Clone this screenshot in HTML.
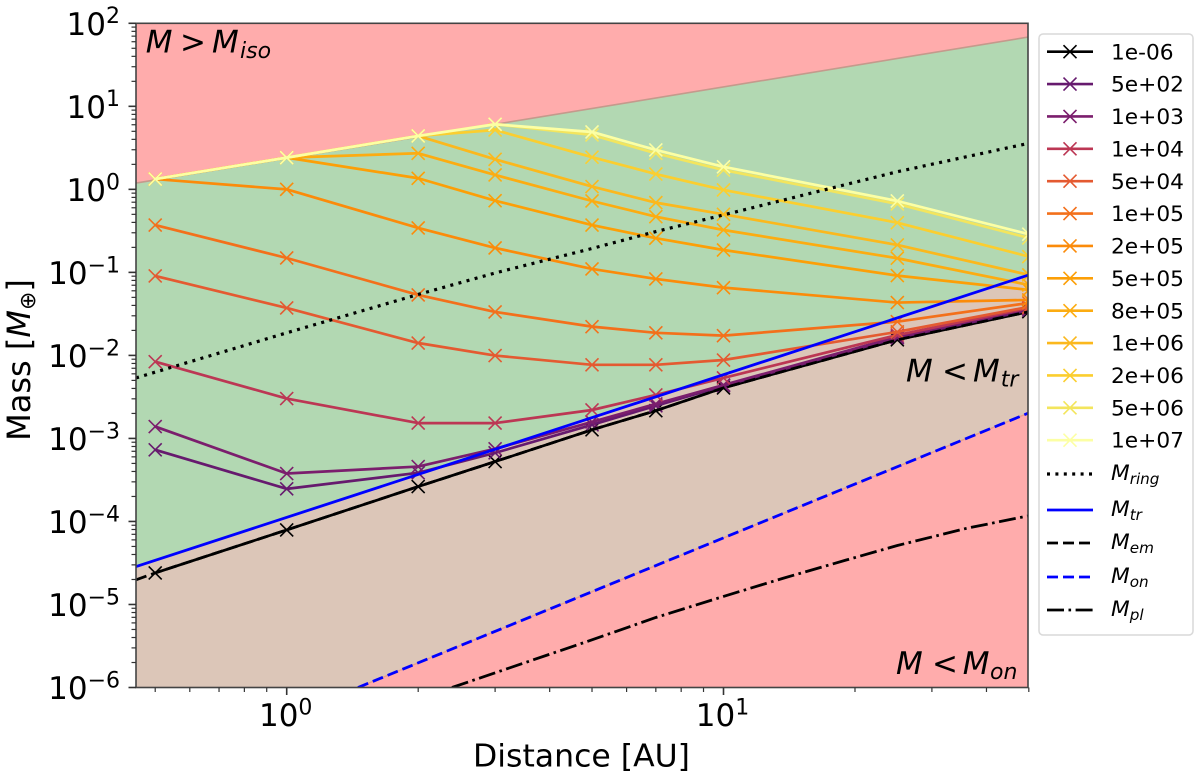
<!DOCTYPE html>
<html lang="en">
<head>
<meta charset="utf-8">
<title>Mass vs Distance</title>
<style>
html,body{margin:0;padding:0;background:#fff;width:1200px;height:776px;overflow:hidden}
svg{display:block}
text{font-family:"DejaVu Sans","Liberation Sans",sans-serif;fill:#000}
</style>
</head>
<body>
<svg id="chart" xmlns="http://www.w3.org/2000/svg" width="1200" height="776" viewBox="0 0 1200 776">
  <defs>
    <clipPath id="axes-clip"><rect x="136" y="23.3" width="892" height="664.2"></rect></clipPath>
  </defs>
  <g id="plot" clip-path="url(#axes-clip)"></g>
  <rect x="136" y="23.3" width="892" height="664.2" fill="none" stroke="#444" stroke-width="1.6"></rect>
  <g id="ticks"></g>

  <g font-size="31">
    <text y="52.7"><tspan x="145.7" font-style="italic">M</tspan><tspan x="180">&gt;</tspan><tspan x="212" font-style="italic">M</tspan><tspan x="240" y="58" font-size="22" font-style="italic">iso</tspan></text>
  </g>
  <g font-size="31">
    <text y="381.7"><tspan x="906" font-style="italic">M</tspan><tspan x="942">&lt;</tspan><tspan x="973" font-style="italic">M</tspan><tspan x="1000.7" y="386.7" font-size="22" font-style="italic">tr</tspan></text>
  </g>
  <g font-size="31">
    <text y="674"><tspan x="896" font-style="italic">M</tspan><tspan x="932">&lt;</tspan><tspan x="962.7" font-style="italic">M</tspan><tspan x="990" y="679" font-size="22" font-style="italic">on</tspan></text>
  </g>

  <text x="581.5" y="766.7" font-size="31.5" text-anchor="middle">Distance [AU]</text>
  <text transform="translate(30,360) rotate(-90)" font-size="32" text-anchor="middle">Mass [<tspan font-style="italic">M</tspan><tspan font-size="22" dy="5">⊕</tspan><tspan dy="-5">]</tspan></text>

  <g id="legend">
    <rect x="1039" y="34" width="154" height="601" rx="4" fill="#fff" stroke="#d9d9d9" stroke-width="1.5"></rect>
  </g>
</svg>

<script>
// ---- Data ----
const distances = [0.5, 1, 2, 3, 5, 7, 10, 25, 50];
const seriesLabels = ['1e-06','5e+02','1e+03','1e+04','5e+04','1e+05','2e+05','5e+05','8e+05','1e+06','2e+06','5e+06','1e+07'];
const mass_1em06 = [2.4e-5, 7.9e-5, 2.63e-4, 5.26e-4, 1.27e-3, 2.16e-3, 4.06e-3, 1.54e-2, 3.36e-2];
const mass_5e02 = [7.3e-4, 2.47e-4, 3.85e-4, 6.7e-4, 1.46e-3, 2.47e-3, 4.3e-3, 1.63e-2, 3.5e-2];
const mass_1e03 = [1.39e-3, 3.78e-4, 4.58e-4, 7.5e-4, 1.58e-3, 2.6e-3, 4.4e-3, 1.67e-2, 3.63e-2];
const mass_1e04 = [8.4e-3, 3.02e-3, 1.53e-3, 1.53e-3, 2.2e-3, 3.34e-3, 5.36e-3, 1.76e-2, 3.73e-2];
const mass_5e04 = [0.0906, 0.0373, 0.0141, 0.00995, 0.0077, 0.0077, 0.0088, 0.0192, 0.0384];
const mass_1e05 = [0.372, 0.149, 0.0535, 0.0334, 0.0222, 0.0187, 0.0173, 0.0255, 0.0428];
const mass_2e05 = [1.33, 1.0, 0.343, 0.197, 0.110, 0.0834, 0.0655, 0.0433, 0.0466];
const mass_5e05 = [1.33, 2.41, 1.36, 0.731, 0.372, 0.258, 0.186, 0.0914, 0.0615];
const mass_8e05 = [1.33, 2.41, 2.72, 1.49, 0.724, 0.469, 0.324, 0.148, 0.0706];
const mass_1e06 = [1.33, 2.41, 4.4, 2.30, 1.08, 0.692, 0.501, 0.214, 0.0933];
const mass_2e06 = [1.33, 2.41, 4.4, 5.19, 2.44, 1.53, 0.984, 0.397, 0.155];
const mass_5e06 = [1.33, 2.41, 4.4, 6.08, 4.52, 2.72, 1.71, 0.667, 0.26];
const mass_1e07 = [1.33, 2.41, 4.4, 6.08, 4.91, 2.98, 1.87, 0.724, 0.288];
const seriesValues = [mass_1em06, mass_5e02, mass_1e03, mass_1e04, mass_5e04, mass_1e05, mass_2e05, mass_5e05, mass_8e05, mass_1e06, mass_2e06, mass_5e06, mass_1e07];
const seriesColors = ['#000000','#661a6e','#7b1e6d','#bc3754','#e45a31','#f3701b','#fb8b0a','#fc9f07','#fcac11','#fbb81d','#fbce2f','#f3e55d','#fcffa4'];

const isoDist = [0.452, 50];
const isoMass = [1.19, 68.4];
const trDist = [0.452, 50];
const trMass = [2.86e-5, 0.0931];
const onDist = [1.456, 50];
const onMass = [1e-6, 2.03e-3];
const ringDist = [0.452, 1, 2, 3, 5, 7, 10, 25, 50];
const ringMass = [5.36e-3, 0.0187, 0.0542, 0.0984, 0.194, 0.31, 0.492, 1.63, 3.59];
const emDist = [0.452, 0.5, 1, 2, 3, 5, 7, 10, 25, 50];
const emMass = [1.98e-5, 2.4e-5, 7.9e-5, 2.63e-4, 5.26e-4, 1.27e-3, 2.16e-3, 4.06e-3, 1.54e-2, 3.36e-2];
const plDist = [2.39, 5, 7, 10, 13.7, 19.1, 25, 36, 50];
const plMass = [1e-6, 3.75e-6, 6.97e-6, 1.25e-5, 2.07e-5, 3.43e-5, 5.13e-5, 8.26e-5, 1.17e-4];

const xMajorTicks = [1, 10];
const xTickExponents = ['0', '1'];
const xMinorTicks = [0.5, 0.6, 0.7, 0.8, 0.9, 2, 3, 4, 5, 6, 7, 8, 9, 20, 30, 40, 50];
const yMajorExponents = [2, 1, 0, -1, -2, -3, -4, -5, -6];
const yMinorFactors = [2, 3, 4, 5, 6, 7, 8, 9];
const refLabels = ['ring', 'tr', 'em', 'on', 'pl'];

// ---- Axis functions ----
const X0 = 286.7, XDEC = 436.8, Y_TOP = 23.3, Y_BOT = 687.5, YDEC = (Y_BOT - Y_TOP) / 8;
const xMin = Math.pow(10, (136 - X0) / XDEC), xMax = Math.pow(10, (1028 - X0) / XDEC);
const yMin = 1e-6, yMax = 100;
function xs(d) { return X0 + Math.log10(d) * XDEC; }
function ys(m) { return Y_TOP + (2 - Math.log10(m)) * YDEC; }
function pts(dist, mass) { return dist.map(function (d, i) { return xs(d).toFixed(2) + ',' + ys(mass[i]).toFixed(2); }); }

const NS = 'http://www.w3.org/2000/svg';
function make(tag, attrs, parent) {
  const el = document.createElementNS(NS, tag);
  Object.keys(attrs).forEach(function (k) { el.setAttribute(k, attrs[k]); });
  parent.appendChild(el);
  return el;
}
const plot = document.getElementById('plot');
const ticks = document.getElementById('ticks');
const legend = document.getElementById('legend');

// ---- Regions ----
const redBg = make('rect', {x: 136, y: Y_TOP, width: 892, height: Y_BOT - Y_TOP, fill: '#ffacac'}, plot);



const greenRegion = make('polygon', {points: pts(isoDist, isoMass).concat(pts(trDist, trMass).reverse()).join(' '), fill: '#b2d8b2'}, plot);



const brownPts = pts(trDist, trMass).concat(pts(onDist, onMass).reverse());
brownPts.push(xs(trDist[0]).toFixed(2) + ',' + ys(yMin).toFixed(2));
const brownRegion = make('polygon', {points: brownPts.join(' '), fill: '#dcc6b8'}, plot);



const isoEdge = make('polyline', {points: pts(isoDist, isoMass).join(' '), fill: 'none', stroke: '#c49a8c', 'stroke-width': 1.6}, plot);



const onEdge = make('polyline', {points: pts(onDist, onMass).join(' '), fill: 'none', stroke: '#e8a08c', 'stroke-width': 1.4}, plot);



// ---- Series ----
function drawMarker(parent, cx, cy, color) {
  const r = 6.5;
  const m = make('path', {d: 'M' + (cx - r) + ' ' + (cy - r) + 'L' + (cx + r) + ' ' + (cy + r) + 'M' + (cx - r) + ' ' + (cy + r) + 'L' + (cx + r) + ' ' + (cy - r), stroke: color, 'stroke-width': 1.6, fill: 'none'}, parent);
  
  
}
seriesValues.forEach(function (vals, s) {
  const g = make('g', {}, plot);
  
  
  const line = make('polyline', {points: pts(distances, vals).join(' '), fill: 'none', stroke: seriesColors[s], 'stroke-width': 2.7, 'stroke-linejoin': 'round'}, g);
  
  
  vals.forEach(function (v, i) { drawMarker(g, xs(distances[i]), ys(v), seriesColors[s]); });
});

// ---- Reference curves ----
const refDist = [ringDist, trDist, emDist, onDist, plDist];
const refMass = [ringMass, trMass, emMass, onMass, plMass];
const refColor = ['#000', '#0000ff', '#000', '#0000ff', '#000'];
const refDash = ['3 5.4', 'none', '11 5', '11 5', '17 4.5 2.6 4.5'];
const refWidth = [3.2, 2.8, 2.8, 2.8, 2.8];
refLabels.forEach(function (lab, i) {
  const l = make('polyline', {points: pts(refDist[i], refMass[i]).join(' '), fill: 'none', stroke: refColor[i], 'stroke-width': refWidth[i], 'stroke-dasharray': refDash[i]}, plot);
  
  
});

// ---- Ticks ----
function tickLine(x1, y1, x2, y2, w) {
  const t = make('line', {x1: x1, y1: y1, x2: x2, y2: y2, stroke: '#333', 'stroke-width': w}, ticks);
  
  
}
function powerLabel(x, y, exp, anchor) {
  const t = make('text', {x: x, y: y, 'font-size': 31, 'text-anchor': anchor}, ticks);
  
  
  t.appendChild(document.createTextNode('10'));
  const sup = make('tspan', {'font-size': 22, dy: -11.7}, t);
  sup.textContent = exp;
}
xMajorTicks.forEach(function (d, i) {
  tickLine(xs(d), Y_BOT, xs(d), Y_BOT + 7.5, 1.6);
  powerLabel(xs(d) - 1, 726, xTickExponents[i], 'middle');
});
xMinorTicks.forEach(function (d) { tickLine(xs(d), Y_BOT, xs(d), Y_BOT + 4.5, 1.2); });
yMajorExponents.forEach(function (e) {
  const y = ys(Math.pow(10, e));
  tickLine(136, y, 128.5, y, 1.6);
  powerLabel(120, y + 11.6, (e < 0 ? '\u2212' : '') + Math.abs(e), 'end');
  if (e > -6) {
    yMinorFactors.forEach(function (f) {
      const ym = ys(f * Math.pow(10, e - 1));
      tickLine(136, ym, 131.5, ym, 1.2);
    });
  }
});

// ---- Legend ----
const LROW0 = 51.7, LSTEP = 32.37, LX1 = 1047, LX2 = 1093, LTX = 1111;
seriesLabels.forEach(function (lab, i) {
  const y = LROW0 + i * LSTEP;
  const g = make('g', {}, legend);
  
  
  const h = make('line', {x1: LX1, y1: y, x2: LX2, y2: y, stroke: seriesColors[i], 'stroke-width': 2.6}, g);
  
  
  drawMarker(g, (LX1 + LX2) / 2, y, seriesColors[i]);
  const t = make('text', {x: LTX, y: y + 7.6, 'font-size': 21.7}, g);
  
  
  t.textContent = lab;
});
const refLegendRows = [474, 510, 543, 577, 610];
refLabels.forEach(function (lab, i) {
  const y = refLegendRows[i];
  const g = make('g', {}, legend);
  
  
  const h = make('line', {x1: LX1, y1: y, x2: LX2, y2: y, stroke: refColor[i], 'stroke-width': refWidth[i], 'stroke-dasharray': refDash[i]}, g);
  
  
  const t = make('text', {x: LTX, y: y + 6, 'font-size': 21.7, 'font-style': 'italic'}, g);
  
  
  t.appendChild(document.createTextNode('M'));
  const sub = make('tspan', {'font-size': 15.2, dy: 4}, t);
  sub.textContent = lab;
});
</script>
</body>
</html>
